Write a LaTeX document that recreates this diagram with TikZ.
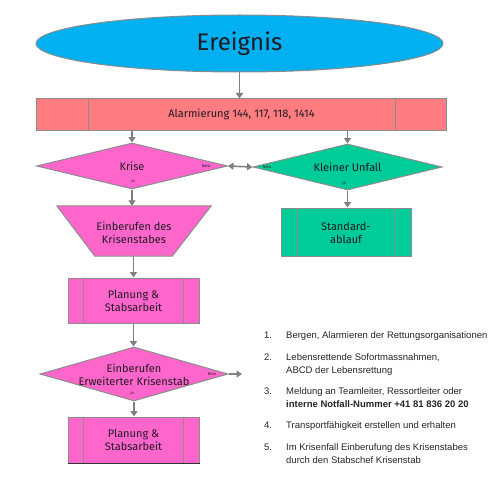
\documentclass[tikz,border=0pt]{standalone}
\usepackage{fontspec}
\setmainfont{Fira Sans}
\newfontfamily\arialfont{Liberation Sans}
\usetikzlibrary{shapes.geometric,arrows.meta,calc}
\definecolor{cyanfill}{HTML}{00B0F0}
\definecolor{barfill}{HTML}{FF7C80}
\definecolor{pinkfill}{HTML}{FF66CC}
\definecolor{greenfill}{HTML}{00CC99}
\definecolor{bordergray}{HTML}{8C8C8C}
\definecolor{arrowgray}{HTML}{7F7F7F}
\definecolor{textdark}{HTML}{1E1A22}
\newcommand\pplines[2]{%
  \draw[draw=bordergray, line width=1pt] ($(#1.north west)+(#2,0)$) -- ($(#1.south west)+(#2,0)$);
  \draw[draw=bordergray, line width=1pt] ($(#1.north east)+(-#2,0)$) -- ($(#1.south east)+(-#2,0)$);}
\begin{document}
\begin{tikzpicture}[x=1pt,y=-1pt,
  shapeline/.style={draw=bordergray, line width=1pt},
  conn/.style={draw=arrowgray, line width=1.6pt, -{Triangle[width=7pt,length=5.5pt]}},
  dconn/.style={draw=arrowgray, line width=1.6pt, {Triangle[width=7pt,length=5.5pt]}-{Triangle[width=7pt,length=5.5pt]}},
  lbl/.style={font=\fontsize{11}{13}\selectfont, text=textdark, align=center, inner sep=0},
  tinylbl/.style={font=\fontsize{4}{4.5}\selectfont, text=textdark, inner sep=0},
  proc/.style={shapeline, rectangle, inner sep=0},
  dia/.style={shapeline, diamond, inner sep=0},
  listnum/.style={font=\arialfont\fontsize{9.5}{13}\selectfont, text=black!85, anchor=base west, inner sep=0},
  listtxt/.style={font=\arialfont\fontsize{9.5}{13}\selectfont, text=black!85, anchor=base west, inner sep=0}
]
\useasboundingbox (0,0) rectangle (500,500);
\fill[white] (0,0) rectangle (500,500);

% Ereignis
\node[shapeline, ellipse, fill=cyanfill, minimum width=407, minimum height=57, inner sep=0,
  font=\fontsize{24}{28}\selectfont, text=textdark] (ereignis) at (239.5,43.5) {Ereignis};

% Alarmierung bar
\node[proc, fill=barfill, minimum width=410, minimum height=31, font=\fontsize{11}{13}\selectfont, text=textdark]
  (alarm) at (241.5,114.5) {Alarmierung 144, 117, 118, 1414};
\pplines{alarm}{52}

% Krise diamond
\node[dia, fill=pinkfill, minimum width=191, minimum height=46] (krise) at (132,166) {};
\node[lbl] (krisetxt) at (krise.center) {Krise};
\node[tinylbl] (krisenein) at (206,166) {Nein};
\node[tinylbl] (kriseja) at (133,181) {Ja};

% Kleiner Unfall diamond
\node[dia, fill=greenfill, minimum width=189, minimum height=46] (unfall) at (347.5,167) {};
\node[lbl] (unfalltxt) at (unfall.center) {Kleiner Unfall};
\node[tinylbl] (unfallnein) at (267,167) {Nein};
\node[tinylbl] (unfallja) at (344,183) {Ja};

% Trapezoid
\node[minimum width=154, minimum height=50, inner sep=0] (einb) at (134,231) {};
\fill[pinkfill] (einb.north west) -- (einb.north east) -- ($(einb.south east)+(-39,0)$) -- ($(einb.south west)+(38,0)$) -- cycle;
\draw[shapeline] (einb.north west) -- (einb.north east) -- ($(einb.south east)+(-39,0)$) -- ($(einb.south west)+(38,0)$) -- cycle;
\node[lbl] (einbtxt) at (134,232.5) {Einberufen des\\Krisenstabes};

% Standardablauf
\node[proc, fill=greenfill, minimum width=130, minimum height=48] (std) at (346,232) {};
\pplines{std}{16}
\node[lbl] (stdtxt) at (346,233) {Standard-\\ablauf};

% Planung 1
\node[proc, fill=pinkfill, minimum width=131, minimum height=45] (plan1) at (133.5,300.5) {};
\pplines{plan1}{16}
\node[lbl] (plan1txt) at (plan1.center) {Planung \&\\Stabsarbeit};

% Erweiterter diamond
\node[dia, fill=pinkfill, minimum width=188, minimum height=54] (erw) at (134,374) {};
\node[lbl] (erwtxt) at (134,374.5) {Einberufen\\Erweiterter Krisenstab};
\node[tinylbl] (erwnein) at (212,374) {Nein};
\node[tinylbl] (erwja) at (132,393) {Ja};
\coordinate (erwout) at (242,374);

% Planung 2
\node[proc, fill=pinkfill, minimum width=131, minimum height=46] (plan2) at (133.5,440) {};
\pplines{plan2}{16}
\node[lbl] (plan2txt) at (plan2.center) {Planung \&\\Stabsarbeit};
\draw[black!80, line width=1pt] (plan2.south west) -- (plan2.south east);

% connectors
\draw[conn] (ereignis.south) -- (ereignis.south |- alarm.north);
\draw[conn] (alarm.south -| krise.north) -- (krise.north);
\draw[conn] (alarm.south -| unfall.north) -- (unfall.north);
\draw[dconn] (krise.east) -- (unfall.west);
\draw[conn] (krise.south) -- (krise.south |- einb.north);
\draw[conn] (unfall.south) -- (unfall.south |- std.north);
\draw[conn] (einb.south -| plan1.north) -- (plan1.north);
\draw[conn] (plan1.south) -- (plan1.south |- erw.north);
\draw[conn] (erw.east) -- (erwout);
\draw[conn] (erw.south) -- (erw.south |- plan2.north);

% list
\node[listnum] (n1) at (264,338.5) {1.};
\node[listtxt] (t1) at (286,338.5) {Bergen, Alarmieren der Rettungsorganisationen};
\node[listnum] (n2) at (264,360.5) {2.};
\node[listtxt] (t2) at (286,360.5) {\begin{tabular}[t]{@{}l@{}}Lebensrettende Sofortmassnahmen,\\ABCD der Lebensrettung\end{tabular}};
\node[listnum] (n3) at (264,394.5) {3.};
\node[listtxt] (t3) at (286,394.5) {\begin{tabular}[t]{@{}l@{}}Meldung an Teamleiter, Ressortleiter oder\\\textbf{interne Notfall-Nummer +41 81 836 20 20}\end{tabular}};
\node[listnum] (n4) at (264,428.5) {4.};
\node[listtxt] (t4) at (286,428.5) {Transportfähigkeit erstellen und erhalten};
\node[listnum] (n5) at (264,450.5) {5.};
\node[listtxt] (t5) at (286,450.5) {\begin{tabular}[t]{@{}l@{}}Im Krisenfall Einberufung des Krisenstabes\\durch den Stabschef Krisenstab\end{tabular}};
\end{tikzpicture}
\end{document}
